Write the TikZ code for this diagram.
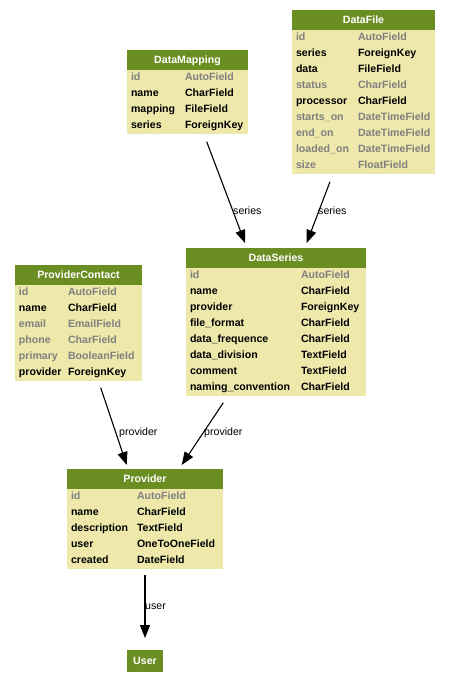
\documentclass[tikz,border=0pt]{standalone}
\usepackage{fontspec}
\setmainfont{Liberation Sans}
\usetikzlibrary{arrows.meta}
\definecolor{hdr}{HTML}{6B8E23}
\definecolor{bdy}{HTML}{EEE8AA}
\definecolor{dim}{HTML}{808080}
\tikzset{
  body/.style={rectangle, fill=bdy, inner sep=0pt, outer sep=0pt},
  head/.style={rectangle, fill=hdr, inner sep=0pt, outer sep=0pt, minimum height=20pt, text=white, font=\bfseries\fontsize{10.6}{12}\selectfont, text height=7.6pt, text depth=0pt},
  field/.style={inner sep=0pt, outer sep=0pt, font=\bfseries\fontsize{10.6}{12}\selectfont, text height=6.6pt, text depth=0pt, anchor=west},
  rel/.style={draw=black, line width=1.1pt, -{Triangle[length=13pt,width=10pt]}},
  rlabel/.style={inner sep=0pt, font=\fontsize{10.6}{12}\selectfont, anchor=base west},
}
% #1 name, #2 left, #3 top, #4 width, #5 col2 offset, #6 title, #7 number of rows, #8 rows
\newcommand\umltable[8]{%
  \node[body, minimum width=#4pt, minimum height={20+16*#7}, anchor=north west] (#1) at (#2,#3) {};
  \node[head, minimum width=#4pt, anchor=north west] (#1-h) at (#2,#3) {#6};
  \foreach \f/\t/\c [count=\i] in {#8} {
    \node[field, text=\c] (#1-f\i) at (#2+4, #3+11+16*\i) {\f};
    \node[field, text=\c] (#1-t\i) at (#2+#5, #3+11+16*\i) {\t};
  }%
}
\begin{document}
\begin{tikzpicture}[x=1pt,y=-1pt]
\useasboundingbox (0,0) rectangle (451,691);

\umltable{dm}{127}{50}{121}{58}{DataMapping}{4}{id/AutoField/dim, name/CharField/black, mapping/FileField/black, series/ForeignKey/black}

\umltable{df}{292}{10}{143}{66}{DataFile}{9}{id/AutoField/dim, series/ForeignKey/black, data/FileField/black, status/CharField/dim, processor/CharField/black, starts\_on/DateTimeField/dim, end\_on/DateTimeField/dim, loaded\_on/DateTimeField/dim, size/FloatField/dim}

\umltable{ds}{186}{248}{180}{115}{DataSeries}{8}{id/AutoField/dim, name/CharField/black, provider/ForeignKey/black, file\_format/CharField/black, data\_frequence/CharField/black, data\_division/TextField/black, comment/TextField/black, naming\_convention/CharField/black}

\umltable{pc}{15}{265}{127}{53}{ProviderContact}{6}{id/AutoField/dim, name/CharField/black, email/EmailField/dim, phone/CharField/dim, primary/BooleanField/dim, provider/ForeignKey/black}

\umltable{pr}{67}{469}{156}{70}{Provider}{5}{id/AutoField/dim, name/CharField/black, description/TextField/black, user/OneToOneField/black, created/DateField/black}

\node[head, minimum width=36pt, minimum height=22pt, anchor=north west] (us) at (127,650) {User};

\draw[rel] ([xshift=19.2pt,yshift=-7.7pt]dm.south) -- ([xshift=-31pt,yshift=5pt]ds.north);
\draw[rel] ([xshift=-33.5pt,yshift=-7.7pt]df.south) -- ([xshift=30.7pt,yshift=5pt]ds.north);
\draw[rel] ([xshift=22.2pt,yshift=-6.7pt]pc.south) -- ([xshift=-18.3pt,yshift=4pt]pr.north);
\draw[rel] ([xshift=-52.7pt,yshift=-6.7pt]ds.south) -- ([xshift=36.7pt,yshift=4pt]pr.north);
\draw[rel] ([yshift=-6pt]pr.south) -- ([yshift=12pt]us.north);

\node[rlabel] (l1) at (233,214) {series};
\node[rlabel] (l2) at (318,214) {series};
\node[rlabel] (l3) at (119,435) {provider};
\node[rlabel] (l4) at (204,435) {provider};
\node[rlabel] (l5) at (145,609) {user};
\end{tikzpicture}
\end{document}
